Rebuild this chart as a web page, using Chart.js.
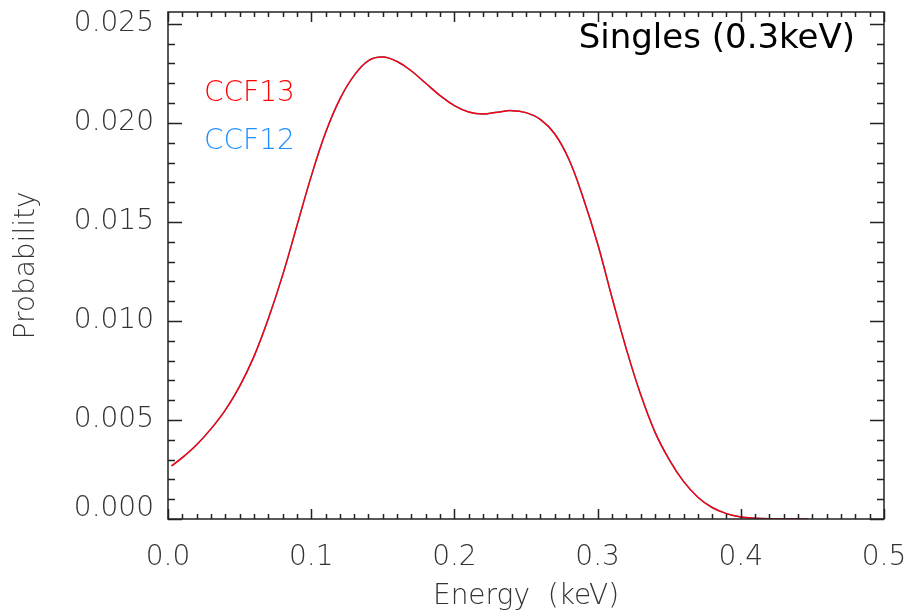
<!DOCTYPE html>
<html>
<head>
<meta charset="utf-8">
<script src="https://cdn.jsdelivr.net/npm/chart.js@4.4.1/dist/chart.umd.min.js"></script>
<style>
  html, body { margin: 0; padding: 0; background: #fff; }
  #wrap { width: 913px; height: 616px; }
</style>
</head>
<body>
<div id="wrap"><canvas id="chart" width="913" height="616"></canvas></div>
<script>
// energy grid (keV) and probability
const energy = [0.0025, 0.01, 0.02, 0.03, 0.04, 0.05, 0.06, 0.07, 0.08, 0.09,
  0.10, 0.11, 0.12, 0.13, 0.14, 0.15, 0.16, 0.17, 0.18, 0.19,
  0.20, 0.21, 0.22, 0.23, 0.24, 0.25, 0.26, 0.27, 0.28, 0.29,
  0.30, 0.31, 0.32, 0.33, 0.34, 0.35, 0.36, 0.37, 0.38, 0.39,
  0.40, 0.41, 0.42, 0.43, 0.44, 0.447];
const ccf13 = [0.00268, 0.0031, 0.00375, 0.00455, 0.0055, 0.0067, 0.0082, 0.0101, 0.0123, 0.0148,
  0.0173, 0.0195, 0.0212, 0.0224, 0.02315, 0.02333, 0.0231, 0.02262, 0.022, 0.02138,
  0.02087, 0.02055, 0.02045, 0.02054, 0.02062, 0.02052, 0.02018, 0.01945, 0.01815, 0.0162,
  0.0139, 0.0112, 0.0086, 0.0063, 0.0044, 0.0030, 0.0019, 0.0011, 0.00058, 0.00027,
  0.0001, 0.00004, 0.00001, 0, 0, 0];
const ccf12 = [0.00268, 0.0031, 0.00375, 0.00455, 0.0055, 0.0067, 0.0082, 0.0101, 0.0123, 0.0148,
  0.0173, 0.0195, 0.0212, 0.0224, 0.02315, 0.02333, 0.0231, 0.02262, 0.022, 0.02138,
  0.02087, 0.02055, 0.02045, 0.02054, 0.02062, 0.02052, 0.02018, 0.01945, 0.01815, 0.0162,
  0.0139, 0.0112, 0.0086, 0.0063, 0.0044, 0.0030, 0.0019, 0.0011, 0.00058, 0.00027,
  0.0001, 0.00004, 0.00001, 0, 0, 0];
const yTickLabels = ["0.000", "0.005", "0.010", "0.015", "0.020", "0.025"];
const seriesNames = ["CCF13", "CCF12"];
const seriesColors = ["#ff0000", "#1e90ff"];
const plotTitle = "Singles (0.3keV)";

const thin = { family: "'DejaVu Sans'", size: 28, weight: 200 };
const inkColor = "#333";

// box, inward ticks, y labels, legend text
const frame = {
  id: "frame",
  afterDraw(chart) {
    const { ctx, chartArea: a, scales: { x, y } } = chart;
    ctx.save();
    ctx.strokeStyle = "#222";
    ctx.lineWidth = 1.5;
    ctx.strokeRect(a.left, a.top, a.right - a.left, a.bottom - a.top);
    ctx.beginPath();
    for (let i = 0; i <= 50; i++) {
      const px = Math.round(x.getPixelForValue(i / 100)) + 0.5;
      const len = i % 10 === 0 ? 10 : 5;
      ctx.moveTo(px, a.bottom); ctx.lineTo(px, a.bottom - len);
      ctx.moveTo(px, a.top); ctx.lineTo(px, a.top + len);
    }
    for (let i = 0; i <= 25; i++) {
      const py = Math.round(y.getPixelForValue(i / 1000)) + 0.5;
      const len = i % 5 === 0 ? 14 : 7;
      ctx.moveTo(a.left, py); ctx.lineTo(a.left + len, py);
      ctx.moveTo(a.right, py); ctx.lineTo(a.right - len, py);
    }
    ctx.stroke();

    ctx.font = `${thin.weight} ${thin.size}px ${thin.family}`;
    ctx.fillStyle = inkColor;
    ctx.textAlign = "right";
    ctx.textBaseline = "middle";
    yTickLabels.forEach((lab, i) => {
      let py = y.getPixelForValue(parseFloat(lab));
      if (i === 0) py -= 10;
      ctx.fillText(lab, a.left - 14, py);
    });

    ctx.textAlign = "left";
    chart.data.datasets.forEach((ds, i) => {
      ctx.fillStyle = ds.borderColor;
      ctx.fillText(ds.label, 204, 94 + i * 48);
    });

    ctx.font = "34px 'DejaVu Sans'";
    ctx.fillStyle = "#000";
    ctx.textAlign = "right";
    ctx.fillText(plotTitle, a.right - 29, 39);
    ctx.restore();
  }
};

new Chart(document.getElementById("chart"), {
  type: "line",
  data: {
    datasets: [
      {
        label: seriesNames[0],
        data: energy.map((e, i) => ({ x: e, y: ccf13[i] })),
        borderColor: seriesColors[0],
        borderWidth: 1.5,
        pointRadius: 0,
        tension: 0.4,
        fill: false
      },
      {
        label: seriesNames[1],
        data: energy.map((e, i) => ({ x: e, y: ccf12[i] })),
        borderColor: seriesColors[1],
        borderWidth: 1.5,
        pointRadius: 0,
        tension: 0.4,
        fill: false
      }
    ]
  },
  options: {
    responsive: false,
    animation: false,
    layout: { padding: { top: 12, right: 29, left: 0, bottom: 0 } },
    plugins: { legend: { display: false }, tooltip: { enabled: false } },
    scales: {
      x: {
        type: "linear",
        min: 0,
        max: 0.5,
        grid: { display: false, drawTicks: false },
        border: { display: false },
        ticks: {
          stepSize: 0.1,
          padding: 22,
          color: inkColor,
          font: thin,
          maxRotation: 0,
          callback: v => v.toFixed(1)
        },
        title: {
          display: true,
          text: "Energy  (keV)",
          color: inkColor,
          font: thin,
          padding: { top: 0, bottom: 2 }
        },
        afterFit: s => { s.height = 97; s.paddingLeft = 0; s.paddingRight = 0; }
      },
      y: {
        type: "linear",
        min: 0,
        max: 0.0256,
        grid: { display: false, drawTicks: false },
        border: { display: false },
        ticks: { display: false, stepSize: 0.005, includeBounds: false },
        title: {
          display: true,
          text: "Probability",
          color: inkColor,
          font: thin,
          padding: { top: 10, bottom: 0 }
        },
        afterFit: s => { s.width = 168; s.paddingTop = 0; s.paddingBottom = 0; }
      }
    }
  },
  plugins: [frame]
});
</script>
</body>
</html>
